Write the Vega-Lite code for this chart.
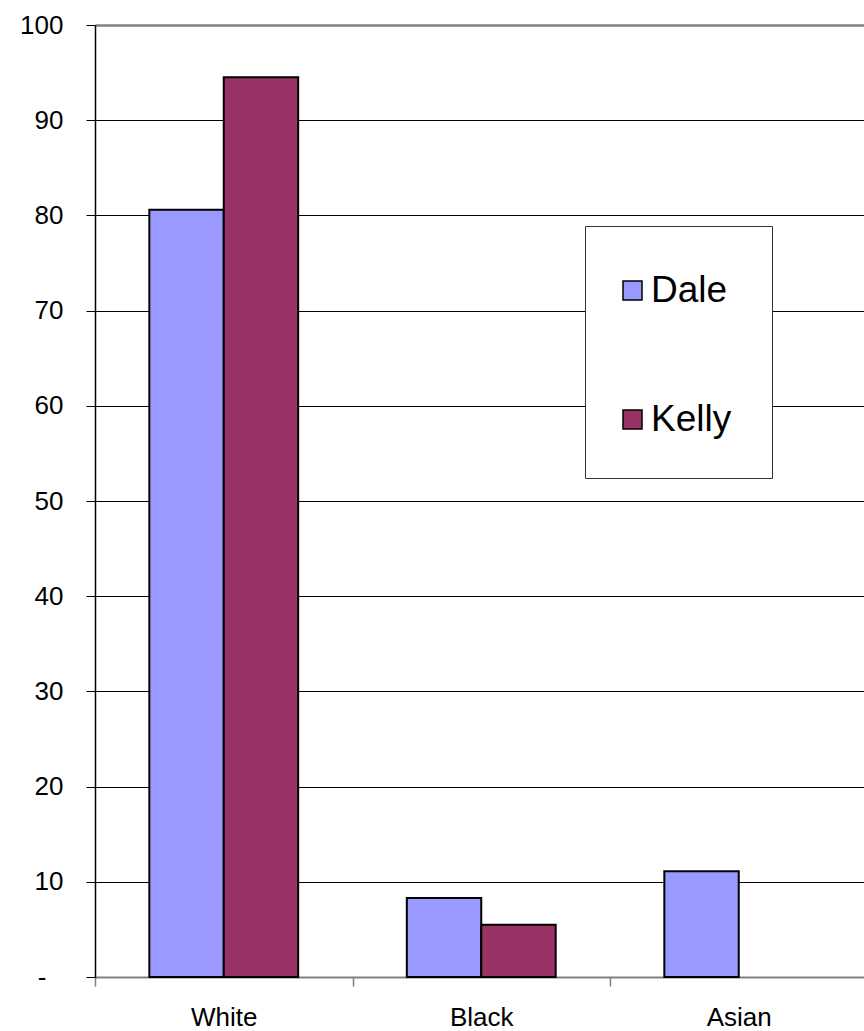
{
  "$schema": "https://vega.github.io/schema/vega-lite/v6.json",
  "autosize": {"type": "none"},
  "padding": {"left": 95, "top": 25, "right": 0, "bottom": 54},
  "width": 769,
  "height": 952,
  "background": "white",
  "config": {
    "view": {"stroke": null},
    "font": "Liberation Sans"
  },
  "data": {
    "values": [
      {"group": "White", "person": "Dale", "value": 80.6},
      {"group": "White", "person": "Kelly", "value": 94.5},
      {"group": "Black", "person": "Dale", "value": 8.3},
      {"group": "Black", "person": "Kelly", "value": 5.5},
      {"group": "Asian", "person": "Dale", "value": 11.1}
    ]
  },
  "mark": {"type": "bar", "stroke": "black", "strokeWidth": 2},
  "encoding": {
    "x": {
      "field": "group",
      "type": "nominal",
      "sort": ["White", "Black", "Asian"],
      "scale": {"range": [0, 772.5], "paddingInner": 0, "paddingOuter": 0},
      "axis": {
        "title": null,
        "labelAngle": 0,
        "labelFont": "Liberation Sans",
        "labelFontSize": 26,
        "labelColor": "black",
        "labelPadding": 18,
        "tickBand": "extent",
        "tickSize": 9,
        "tickColor": "#808080",
        "tickWidth": 1.5,
        "domainColor": "#808080",
        "domainWidth": 2,
        "grid": false
      }
    },
    "xOffset": {
      "field": "person",
      "type": "nominal",
      "scale": {"domain": ["Dale", "Kelly"], "paddingOuter": 0.73, "paddingInner": 0}
    },
    "y": {
      "field": "value",
      "type": "quantitative",
      "scale": {"domain": [0, 100], "nice": false},
      "axis": {
        "title": null,
        "values": [0, 10, 20, 30, 40, 50, 60, 70, 80, 90, 100],
        "labelExpr": "datum.value == 0 ? '-' : datum.label",
        "labelFont": "Liberation Sans",
        "labelFontSize": 26,
        "labelColor": "black",
        "labelPadding": {"condition": {"test": "datum.value == 0", "value": 40}, "value": 23},
        "tickSize": 9,
        "tickColor": "black",
        "domainColor": "black",
        "domainWidth": 1.5,
        "grid": true,
        "gridColor": {"condition": {"test": "datum.value == 100", "value": "#808080"}, "value": "black"},
        "gridWidth": {"condition": {"test": "datum.value == 100", "value": 2.5}, "value": 1}
      }
    },
    "fill": {
      "field": "person",
      "type": "nominal",
      "scale": {"domain": ["Dale", "Kelly"], "range": ["#9999FF", "#993366"]},
      "legend": {
        "title": " ",
        "titleFontSize": 1,
        "titlePadding": 5,
        "orient": "none",
        "legendX": 490,
        "legendY": 201,
        "padding": 40,
        "symbolOffset": -11,
        "fillColor": "white",
        "strokeColor": "#333333",
        "symbolType": "square",
        "symbolSize": 361,
        "symbolStrokeColor": "black",
        "symbolStrokeWidth": 1.5,
        "symbolOpacity": 1,
        "labelFont": "Liberation Sans",
        "labelFontSize": 37,
        "labelColor": "black",
        "labelOffset": 0,
        "rowPadding": 91
      }
    }
  }
}
